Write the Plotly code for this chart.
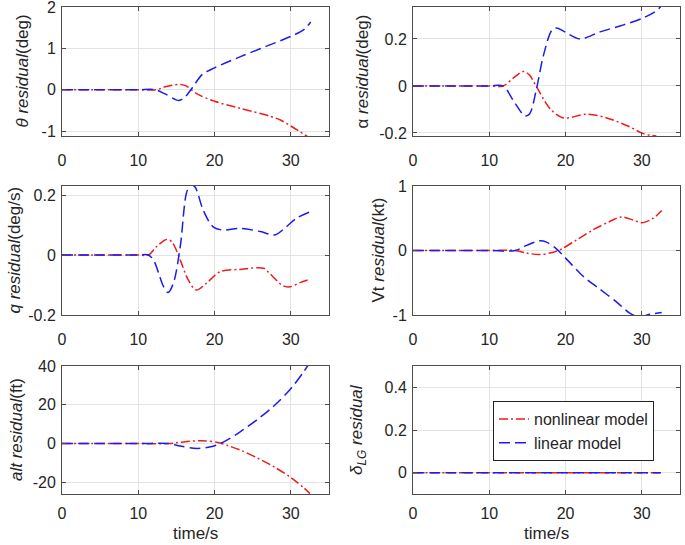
import plotly.graph_objects as go

# ---------------- data ----------------
x_ticks = [0, 10, 20, 30]
x_ticklabels = ["0", "10", "20", "30"]

# theta residual (deg)
t_theta_nl = [0, 5, 10, 12.4, 13.5, 15.3, 16.2, 17.7, 20, 23.4, 27.4, 28.7, 30.1, 32.4]
theta_nl = [0, 0, 0, 0, 0.07, 0.13, 0.1, -0.1, -0.28, -0.45, -0.65, -0.74, -0.89, -1.16]
t_theta_lin = [0, 5, 10, 12.2, 13.5, 15.3, 16, 17.06, 18.4, 20, 23.4, 26.9, 30.1, 31.75, 32.6]
theta_lin = [0, 0, 0, 0, -0.1, -0.26, -0.2, 0.04, 0.37, 0.53, 0.8, 1.06, 1.3, 1.46, 1.64]

# alpha residual (deg)
t_alpha_nl = [0, 5, 10, 11.8, 13.2, 14.5, 15.3, 16.2, 17.95, 19.7, 22.8, 25.4, 28.4, 30.2, 31.9]
alpha_nl = [0, 0, 0, 0, 0.035, 0.062, 0.045, -0.004, -0.096, -0.136, -0.12, -0.136, -0.174, -0.203, -0.213]
t_alpha_lin = [0, 5, 10, 11.8, 13.3, 14.7, 15.3, 16.2, 17.1, 18.2, 18.8, 19.9, 21.9, 24.5, 27.6, 30, 31.9, 32.6]
alpha_lin = [0, 0, 0, 0, -0.07, -0.128, -0.118, -0.01, 0.13, 0.237, 0.247, 0.23, 0.2, 0.23, 0.26, 0.287, 0.32, 0.343]

# q residual (deg/s)
t_q_nl = [0, 5, 10, 11.3, 12.4, 13.7, 14.4, 15.5, 16.55, 17.6, 18.95, 20.7, 23.3, 26.4, 27.2, 29, 29.9, 31.2, 32.5]
q_nl = [0, 0, 0, 0, 0.028, 0.052, 0.044, -0.017, -0.083, -0.117, -0.094, -0.056, -0.048, -0.044, -0.061, -0.103, -0.106, -0.092, -0.081]
t_q_lin = [0, 5, 10, 11.3, 12, 13.3, 13.9, 14.6, 15.5, 16.3, 16.8, 17.4, 18.5, 19.8, 21.1, 23.3, 26, 27.9, 29.4, 30.7, 32.5]
q_lin = [0, 0, 0, 0, -0.017, -0.105, -0.125, -0.094, 0.028, 0.205, 0.233, 0.228, 0.15, 0.094, 0.083, 0.089, 0.078, 0.067, 0.094, 0.122, 0.144]

# Vt residual (kt)
t_vt_nl = [0, 5, 10, 13.4, 14.9, 16.6, 18.4, 19.5, 21.4, 23.6, 25.8, 27.3, 28.9, 30, 31.5, 32.6]
vt_nl = [0, 0, 0, 0, -0.04, -0.063, -0.026, 0.026, 0.16, 0.32, 0.45, 0.52, 0.47, 0.43, 0.5, 0.62]
t_vt_lin = [0, 5, 10, 13.4, 14.9, 16.6, 17.5, 18.8, 20.1, 22.3, 24.5, 26.7, 28.4, 29.7, 31, 32.6]
vt_lin = [0, 0, 0, 0, 0.08, 0.15, 0.13, 0.026, -0.13, -0.4, -0.6, -0.8, -0.97, -1.03, -0.99, -0.96]

# alt residual (ft)
t_alt_nl = [0, 5, 10, 14, 15.5, 18.2, 20.3, 21.7, 23.4, 25.6, 27.8, 30.1, 31.75, 32.5]
alt_nl = [0, 0, 0, 0, 0.7, 1.5, 0.7, -1.0, -3.4, -7.4, -12.0, -17.8, -23.0, -25.8]
t_alt_lin = [0, 5, 10, 14, 15.5, 17.7, 19.8, 21.2, 23.4, 25.6, 27.8, 30.1, 31.75, 32.6]
alt_lin = [0, 0, 0, 0, -1.3, -2.5, -1.4, 0.9, 6.2, 12.4, 19.5, 28.8, 37.4, 42.6]

# delta_LG residual
t_dlg = [0, 10, 20, 32.5]
dlg_nl = [0, 0, 0, 0]
dlg_lin = [0, 0, 0, 0]

panels = [
    dict(tn=t_theta_nl, yn=theta_nl, tl=t_theta_lin, yl=theta_lin,
         yrange=[-1.12, 2.002], yt=[-1, 0, 1, 2], ytt=["-1", "0", "1", "2"],
         title="<i>θ residual</i>(deg)", tx=22),
    dict(tn=t_alpha_nl, yn=alpha_nl, tl=t_alpha_lin, yl=alpha_lin,
         yrange=[-0.213, 0.336], yt=[-0.2, 0, 0.2], ytt=["-0.2", "0", "0.2"],
         title="α <i>residual</i>(deg)", tx=362),
    dict(tn=t_q_nl, yn=q_nl, tl=t_q_lin, yl=q_lin,
         yrange=[-0.2, 0.23], yt=[-0.2, 0, 0.2], ytt=["-0.2", "0", "0.2"],
         title="<i>q residual</i>(deg/s)", tx=14),
    dict(tn=t_vt_nl, yn=vt_nl, tl=t_vt_lin, yl=vt_lin,
         yrange=[-1, 1], yt=[-1, 0, 1], ytt=["-1", "0", "1"],
         title="Vt <i>residual</i>(kt)", tx=378),
    dict(tn=t_alt_nl, yn=alt_nl, tl=t_alt_lin, yl=alt_lin,
         yrange=[-26, 40], yt=[-20, 0, 20, 40], ytt=["-20", "0", "20", "40"],
         title="<i>alt residual</i>(ft)", tx=16),
    dict(tn=t_dlg, yn=dlg_nl, tl=t_dlg, yl=dlg_lin,
         yrange=[-0.1, 0.5], yt=[0, 0.2, 0.4], ytt=["0", "0.2", "0.4"],
         title="<i>δ</i><sub><i>LG</i></sub> <i>residual</i>", tx=358),
]

# ---------------- layout ----------------
W, H = 685, 545
col_px = [(62, 329), (413, 680)]
row_px = [(7, 136), (186, 315), (366, 494)]
row_label_standoff = [10, 10, 5]

RED = "#ee1c1c"
BLUE = "#1c1cee"
AX = "#4d4d4d"
TXT = "#262626"
GRID = "#e3e3e3"
FONT = "Liberation Sans, Arial, sans-serif"

fig = go.Figure()
annotations = []
layout = dict(
    width=W, height=H,
    margin=dict(l=0, r=0, t=0, b=0),
    paper_bgcolor="white", plot_bgcolor="white",
    font=dict(family=FONT, size=16, color=TXT),
    showlegend=True,
    legend=dict(x=493 / W, y=1 - 401 / H, xanchor="left", yanchor="top",
                bgcolor="white", bordercolor="#222222", borderwidth=1,
                font=dict(size=16, color=TXT), tracegroupgap=0),
)

for i, p in enumerate(panels):
    r, c = divmod(i, 2)
    n = i + 1
    xs = "x" if n == 1 else f"x{n}"
    ys = "y" if n == 1 else f"y{n}"
    xk = "xaxis" if n == 1 else f"xaxis{n}"
    yk = "yaxis" if n == 1 else f"yaxis{n}"
    x0, x1 = col_px[c]
    y0, y1 = row_px[r]
    common = dict(showline=True, mirror="ticks", linecolor=AX, linewidth=1,
                  showgrid=True, gridcolor=GRID, gridwidth=1, zeroline=False,
                  ticks="inside", ticklen=4, tickcolor=AX, automargin=False,
                  ticklabeloverflow="allow",
                  tickfont=dict(size=16, color=TXT))
    layout[xk] = dict(common, domain=[x0 / W, x1 / W], anchor=ys,
                      range=[0, 35], tickvals=x_ticks, ticktext=x_ticklabels,
                      ticklabelstandoff=row_label_standoff[r])
    layout[yk] = dict(common, domain=[1 - y1 / H, 1 - y0 / H], anchor=xs,
                      range=p["yrange"], tickvals=p["yt"], ticktext=p["ytt"],
                      ticklabelstandoff=2)
    annotations.append(dict(text=p["title"], xref="paper", yref="paper",
                            x=p["tx"] / W, y=1 - (y0 + y1) / 2 / H,
                            xanchor="center", yanchor="middle", textangle=-90,
                            showarrow=False, font=dict(size=17, color=TXT)))
    if r == 2:
        annotations.append(dict(text="time/s", xref="paper", yref="paper",
                                x=(x0 + x1) / 2 / W, y=0,
                                xanchor="center", yanchor="bottom",
                                showarrow=False, font=dict(size=17, color=TXT)))
    fig.add_trace(go.Scatter(x=p["tn"], y=p["yn"], mode="lines", xaxis=xs, yaxis=ys,
                             name="nonlinear model", legendgroup="nl", showlegend=(n == 6),
                             line=dict(color=RED, width=1.5, dash="9px,3px,2px,3px",
                                       shape="spline", smoothing=0.9)))
    fig.add_trace(go.Scatter(x=p["tl"], y=p["yl"], mode="lines", xaxis=xs, yaxis=ys,
                             name="linear model", legendgroup="lin", showlegend=(n == 6),
                             line=dict(color=BLUE, width=1.5, dash="11px,5px",
                                       shape="spline", smoothing=0.9)))

layout["annotations"] = annotations
fig.update_layout(**layout)
fig.write_html("out.html", config={"displayModeBar": False},
               post_script="document.body.style.margin='0';")
